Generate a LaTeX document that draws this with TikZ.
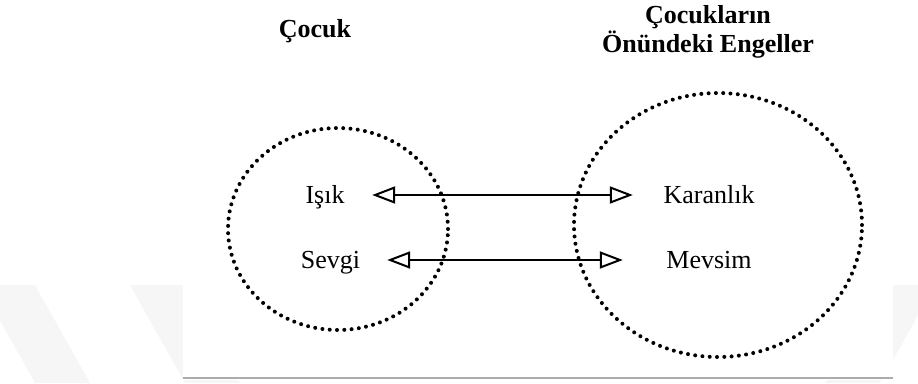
\documentclass[tikz,border=0pt]{standalone}
\usepackage{fontspec}
\setmainfont{Liberation Serif}
\usetikzlibrary{arrows.meta,shapes.geometric}

\begin{document}
\begin{tikzpicture}[x=1pt, y=-1pt,
    lbl/.style={inner sep=0pt, text height=17pt, text depth=0pt, font=\fontsize{26}{29}\selectfont},
    head/.style={inner sep=0pt, align=center, font=\fontsize{26}{29}\selectfont\bfseries},
    dotring/.style={draw, ellipse, inner sep=0pt, line width=4pt, line cap=round, dash pattern=on 0pt off 7.3pt},
    link/.style={line width=2pt, {Triangle[open, length=23pt, width=17pt]}-{Triangle[open, length=23pt, width=17pt]}}]
    \useasboundingbox (0,0) rectangle (918,383);

    % faint watermark behind the figure
    \fill[gray!7] (-20,285) -- (35,285) -- (90,383) -- (35,383) -- cycle;
    \fill[gray!7] (130,285) -- (185,285) -- (240,383) -- (185,383) -- cycle;
    \fill[gray!7] (880,285) -- (935,285) -- (880,383) -- (825,383) -- cycle;
    \fill[white] (183,0) rectangle (893,380);

    \node[head, anchor=base] at (315,37) (cocuk) {Çocuk};
    \node[head, anchor=base] at (708,52) (engel) {Çocukların\\Önündeki Engeller};

    \node[dotring, minimum width=220pt, minimum height=202pt] at (338,229) (sol) {};
    \node[dotring, minimum width=288pt, minimum height=264pt] at (718,225) (sag) {};

    \node[lbl] at (325,195)   (isik)     {Işık};
    \node[lbl] at (330.5,260) (sevgi)    {Sevgi};
    \node[lbl] at (709,195)   (karanlik) {Karanlık};
    \node[lbl] at (709,260)   (mevsim)   {Mevsim};

    \draw[link, shorten <=27.5pt, shorten >=30.5pt] (isik.east) -- (karanlik.west);
    \draw[link, shorten <=26.9pt, shorten >=43.4pt] (sevgi.east) -- (mevsim.west);

    \coordinate (alt1) at (183,378);
    \coordinate (alt2) at (893,378);
    \draw[gray!65, line width=1.5pt] (alt1) -- (alt2);
\end{tikzpicture}
\end{document}
